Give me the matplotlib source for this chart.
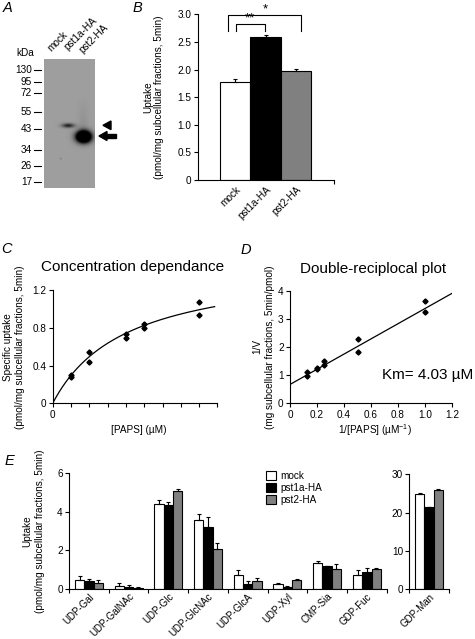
import numpy as np
import matplotlib
matplotlib.use('Agg')
import matplotlib.pyplot as plt
from matplotlib.patches import Polygon, Rectangle

plt.rcParams['font.family'] = ['Liberation Sans', 'DejaVu Sans']
plt.rcParams['mathtext.fontset'] = 'custom'
plt.rcParams['mathtext.rm'] = 'Liberation Sans'
plt.rcParams['mathtext.it'] = 'Liberation Sans:italic'

# ---------------- data ----------------
# Panel A (western blot markers)
kda_labels = ['130', '95', '72', '55', '43', '34', '26', '17']
lane_labels = ['mock', 'pst1a-HA', 'pst2-HA']

# Panel B
b_groups = ['mock', 'pst1a-HA', 'pst2-HA']
b_values = [1.77, 2.58, 1.97]
b_errors = [0.065, 0.05, 0.035]

# Panel C
c_paps = [1, 1, 2, 2, 4, 4, 5, 5, 8, 8]
c_uptake = [0.30, 0.276, 0.54, 0.44, 0.73, 0.69, 0.84, 0.80, 1.07, 0.93]
km = 4.03
vmax = 1.49

# Panel D
d_inv_paps = [0.125, 0.125, 0.2, 0.2, 0.25, 0.25, 0.5, 0.5, 1.0, 1.0]
d_inv_v = [1.10, 0.97, 1.27, 1.21, 1.51, 1.37, 2.29, 1.84, 3.63, 3.24]

# Panel E
e_cats = ['UDP-Gal', 'UDP-GalNAc', 'UDP-Glc', 'UDP-GlcNAc', 'UDP-GlcA',
          'UDP-Xyl', 'CMP-Sia', 'GDP-Fuc']
e_mock = [0.43, 0.14, 4.40, 3.55, 0.71, 0.23, 1.32, 0.69]
e_mock_err = [0.22, 0.18, 0.22, 0.32, 0.28, 0.07, 0.13, 0.30]
e_pst1a = [0.38, 0.09, 4.33, 3.20, 0.24, 0.10, 1.18, 0.88]
e_pst1a_err = [0.10, 0.11, 0.17, 0.54, 0.14, 0.02, 0.02, 0.19]
e_pst2 = [0.32, 0.03, 5.10, 2.05, 0.42, 0.45, 1.00, 1.02]
e_pst2_err = [0.12, 0.08, 0.06, 0.34, 0.16, 0.05, 0.28, 0.06]
man_cat = ['GDP-Man']
man_mock = [24.8]
man_mock_err = [0.3]
man_pst1a = [21.4]
man_pst1a_err = [0.1]
man_pst2 = [26.0]
man_pst2_err = [0.25]
series_names = ['mock', 'pst1a-HA', 'pst2-HA']
series_colors = ['white', 'black', '#808080']

# ---------------- layout helpers ----------------
W, H = 475, 639
fig = plt.figure(figsize=(4.75, 6.39), dpi=100)


def rect(l, r, t, b):
    return [l / W, 1 - b / H, (r - l) / W, (b - t) / H]


ax0 = fig.add_axes([0, 0, 1, 1])
ax0.set_xlim(0, W)
ax0.set_ylim(H, 0)
ax0.axis('off')

FS = 7.2


def style(ax):
    for s in ['top', 'right']:
        ax.spines[s].set_visible(False)
    for s in ['left', 'bottom']:
        ax.spines[s].set_linewidth(0.8)
    ax.tick_params(direction='out', length=3, width=0.8, labelsize=FS, pad=1.5)
    ax.patch.set_alpha(0)


def letter(x, y, s):
    ax0.text(x, y, s, fontsize=10.5, style='italic', ha='left', va='center')


def ylab(x1, x2, y, l1, l2):
    ax0.text(x1, y, l1, rotation=90, ha='center', va='center', fontsize=FS)
    ax0.text(x2, y, l2, rotation=90, ha='center', va='center', fontsize=FS)


# ---------------- Panel A ----------------
letter(3, 8, 'A')
axA = fig.add_axes(rect(44, 95, 59, 188))
yy, xx = np.mgrid[59:188:0.5, 44:95:0.5]
img = np.full(xx.shape, 0.62)
img -= 0.5 * np.exp(-((xx - 68) / 4.4) ** 2 / 2 - ((yy - 125.3) / 1.5) ** 2 / 2)
img -= 1.7 * np.exp(-((xx - 83.5) / 5.0) ** 2 / 2 - ((yy - 136.5) / 3.9) ** 2 / 2)
img -= 0.06 * np.exp(-((xx - 83) / 3.5) ** 2 / 2) * np.clip((yy - 95) / 35, 0, 1) * (yy < 135)
img -= 0.15 * np.exp(-((xx - 60.5) / 0.6) ** 2 / 2 - ((yy - 158.5) / 0.6) ** 2 / 2)
img = np.clip(img, 0, 1)
axA.imshow(img, cmap='gray', vmin=0, vmax=1, extent=(44, 95, 188, 59),
           aspect='auto', interpolation='bilinear')
axA.axis('off')

kda_y = [69.7, 81.7, 93.3, 112.3, 129.3, 149.7, 165.7, 182.3]
ax0.text(25, 53, 'kDa', ha='center', va='center', fontsize=FS)
for lab, y in zip(kda_labels, kda_y):
    ax0.text(32, y, lab, ha='right', va='center', fontsize=FS)
    ax0.plot([34, 41], [y, y], color='black', lw=0.8)
for lab, (x, y) in zip(lane_labels, [(51, 52), (68, 51), (83, 54)]):
    ax0.text(x, y, lab, rotation=45, ha='left', va='baseline',
             rotation_mode='anchor', fontsize=FS)
ax0.add_patch(Polygon([(103, 125.3), (111, 121), (111, 129.6)], closed=True,
                      color='black'))
ax0.add_patch(Polygon([(99, 136), (107, 131.5), (107, 140.5)], closed=True,
                      color='black'))
ax0.add_patch(Rectangle((106, 134.3), 10, 3.4, color='black'))

# ---------------- Panel B ----------------
letter(133, 8, 'B')
axB = fig.add_axes(rect(198, 334, 14.3, 180))
style(axB)
xb = np.arange(len(b_groups))
axB.bar(xb, b_values, width=1.0, color=series_colors, edgecolor='black',
        linewidth=0.8, yerr=[[0] * 3, b_errors], capsize=1.6,
        error_kw=dict(elinewidth=0.8, capthick=0.8, ecolor='black'))
axB.set_xlim(-1.22, 3.25)
axB.set_ylim(0, 3)
axB.set_yticks([0, 0.5, 1.0, 1.5, 2.0, 2.5, 3.0])
axB.set_yticklabels(['0', '0.5', '1.0', '1.5', '2.0', '2.5', '3.0'])
axB.set_xticks(xb)
axB.set_xticklabels(b_groups, rotation=45, ha='right', rotation_mode='anchor')
axB.tick_params(axis='x', length=0, pad=3)
axB.set_xticks([3.25], minor=True)
axB.tick_params(axis='x', which='minor', length=3, width=0.8)
axB.plot([-0.24, -0.24, 2.15, 2.15], [2.70, 2.99, 2.99, 2.70], color='black',
         lw=0.8, clip_on=False)
axB.plot([0.04, 0.04, 0.99, 0.99], [2.70, 2.83, 2.83, 2.70], color='black',
         lw=0.8, clip_on=False)
axB.text(1.0, 2.985, '*', ha='center', va='bottom', fontsize=9.5)
axB.text(0.5, 2.825, '**', ha='center', va='bottom', fontsize=9.5)
ylab(148, 159, 97, 'Uptake', '(pmol/mg subcellular fractions, 5min)')

# ---------------- Panel C ----------------
letter(1, 249, 'C')
axC = fig.add_axes(rect(52.7, 217.4, 290, 403.3))
style(axC)
s = np.linspace(0, 8.85, 200)
axC.plot(s, vmax * s / (km + s), color='black', lw=0.9)
axC.plot(c_paps, c_uptake, 'D', color='black', ms=2.6)
axC.set_xlim(0, 9)
axC.set_ylim(0, 1.2)
axC.set_xticks(range(10))
axC.set_xticklabels(['0'] + [''] * 9)
axC.set_yticks([0, 0.4, 0.8, 1.2])
axC.set_yticklabels(['0', '0.4', '0.8', '1.2'])
ax0.text(133, 267, 'Concentration dependance', ha='center', va='center',
         fontsize=11)
ax0.text(139, 430, '[PAPS] (µM)', ha='center', va='center', fontsize=FS)
ylab(8, 20, 347, 'Specific uptake', '(pmol/mg subcellular fractions, 5min)')

# ---------------- Panel D ----------------
letter(241, 250, 'D')
axD = fig.add_axes(rect(290, 452, 291, 403.3))
style(axD)
xi = np.linspace(0, 1.2, 50)
axD.plot(xi, (km / vmax) * xi + 1 / vmax, color='black', lw=0.9)
axD.plot(d_inv_paps, d_inv_v, 'D', color='black', ms=2.6)
axD.set_xlim(0, 1.2)
axD.set_ylim(0, 4)
axD.set_xticks([0, 0.2, 0.4, 0.6, 0.8, 1.0, 1.2])
axD.set_xticklabels(['0', '0.2', '0.4', '0.6', '0.8', '1.0', '1.2'])
axD.set_yticks([0, 1, 2, 3, 4])
ax0.text(373, 269, 'Double-reciplocal plot', ha='center', va='center',
         fontsize=11)
ax0.text(375, 430, '1/[PAPS] (µM$^{-1}$)', ha='center', va='center', fontsize=FS)
ax0.text(382, 375, 'Km= 4.03 µM', ha='left', va='center', fontsize=11)
ylab(257, 270, 347, '1/V', '(mg subcellular fractions, 5min/pmol)')

# ---------------- Panel E ----------------
letter(5, 461, 'E')
axE = fig.add_axes(rect(69, 386.7, 473.3, 588.7))
style(axE)
bw = 0.235
xe = np.arange(len(e_cats)) + 0.5
ek = dict(elinewidth=0.8, capthick=0.8, ecolor='black')
zeros = [0] * len(e_cats)
for off, vals, errs, col, name in zip(
        [-1, 0, 1], [e_mock, e_pst1a, e_pst2],
        [e_mock_err, e_pst1a_err, e_pst2_err], series_colors, series_names):
    axE.bar(xe + off * bw, vals, width=bw, color=col, edgecolor='black',
            linewidth=0.8, yerr=[zeros, errs], capsize=1.6, error_kw=ek,
            label=name)
axE.set_xlim(0, len(e_cats))
axE.set_ylim(0, 6)
axE.set_yticks([0, 2, 4, 6])
axE.set_xticks(np.arange(len(e_cats) + 1))
axE.set_xticklabels([])
axE.set_xticks(xe, minor=True)
axE.set_xticklabels(e_cats, minor=True, rotation=45, ha='right',
                    rotation_mode='anchor')
axE.tick_params(axis='x', which='minor', length=0, pad=2, labelsize=7)
axE.legend(loc='upper left', bbox_to_anchor=(266 / W, 1 - 471 / H),
           bbox_transform=fig.transFigure, frameon=False, fontsize=FS,
           handlelength=1.0, handleheight=1.0, handletextpad=0.4,
           labelspacing=0.2, borderpad=0, borderaxespad=0)
ylab(27, 40, 531, 'Uptake', '(pmol/mg subcellular fractions, 5min)')

axM = fig.add_axes(rect(409.3, 449, 474.3, 589))
style(axM)
xm = np.arange(1) + 0.5
for off, vals, errs, col in zip([-1, 0, 1], [man_mock, man_pst1a, man_pst2],
                                [man_mock_err, man_pst1a_err, man_pst2_err],
                                series_colors):
    axM.bar(xm + off * bw, vals, width=bw, color=col, edgecolor='black',
            linewidth=0.8, yerr=[[0], errs], capsize=1.6, error_kw=ek)
axM.set_xlim(0, 1)
axM.set_ylim(0, 30)
axM.set_yticks([0, 10, 20, 30])
axM.set_xticks([0, 1])
axM.set_xticklabels([])
axM.set_xticks(xm, minor=True)
axM.set_xticklabels(man_cat, minor=True, rotation=45, ha='right',
                    rotation_mode='anchor')
axM.tick_params(axis='x', which='minor', length=0, pad=2, labelsize=7)

fig.savefig('out.png', dpi=100)
